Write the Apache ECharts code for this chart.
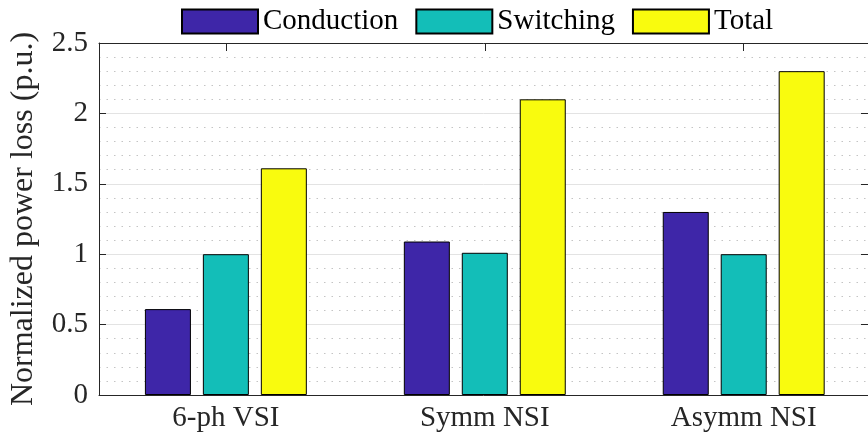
<!DOCTYPE html>
<html>
<head>
<meta charset="utf-8">
<script src="https://cdn.jsdelivr.net/npm/echarts@6/dist/echarts.min.js"></script>
<style>html,body{margin:0;padding:0;background:#fff;}#c{width:868px;height:437px;}</style>
</head>
<body>
<div id="c"></div>
<script>
const categories = ['6-ph VSI', 'Symm NSI', 'Asymm NSI'];
const seriesNames = ['Conduction', 'Switching', 'Total'];
const conduction = [0.61, 1.09, 1.30];
const switching = [1.00, 1.01, 1.00];
const total = [1.61, 2.10, 2.30];
const yTicks = [0, 0.5, 1, 1.5, 2, 2.5];
const colors = ['#3E26A8', '#13BEB8', '#F9FB0E'];

const FONT = '"Liberation Serif", "DejaVu Serif", serif';
const chart = echarts.init(document.getElementById('c'), null, {renderer: 'canvas'});
const toPairs = arr => arr.map((v, i) => [i + 1, v]);
const allSeries = [conduction, switching, total];

const xAxisCommon = {
  type: 'value', min: 0.51, max: 3.48,
  axisLine: {show: true, onZero: false, lineStyle: {color: '#262626', width: 1}},
  splitLine: {show: false}
};
const option = {
  animation: false,
  backgroundColor: '#ffffff',
  textStyle: {fontFamily: FONT},
  legend: {
    top: 7, left: 181, padding: 0,
    itemWidth: 76, itemHeight: 24, itemGap: 17,
    icon: 'rect',
    textStyle: {fontFamily: FONT, fontSize: 29, color: '#000', padding: [0, 0, 0, 0]},
    data: seriesNames
  },
  grid: {left: 99, top: 43, height: 352, width: 772},
  xAxis: [
    Object.assign({}, xAxisCommon, {
      position: 'bottom',
      axisTick: {show: true, inside: true, length: 8, customValues: [1, 2, 3], lineStyle: {color: '#262626'}},
      axisLabel: {show: true, customValues: [1, 2, 3], margin: 9, fontFamily: FONT, fontSize: 29, color: '#262626',
        formatter: v => categories[Math.round(v) - 1] || ''}
    }),
    Object.assign({}, xAxisCommon, {
      position: 'top',
      axisTick: {show: true, inside: true, length: 8, customValues: [1, 2, 3], lineStyle: {color: '#262626'}},
      axisLabel: {show: false}
    })
  ],
  yAxis: [
    {
      type: 'value', min: 0, max: 2.5, interval: 0.5, position: 'left',
      name: 'Normalized power loss (p.u.)', nameLocation: 'middle', nameGap: 59,
      nameTextStyle: {fontFamily: FONT, fontSize: 32, color: '#262626'},
      axisLine: {show: true, lineStyle: {color: '#262626', width: 1}},
      axisTick: {show: true, inside: true, length: 7, lineStyle: {color: '#262626'}},
      axisLabel: {margin: 11, fontFamily: FONT, fontSize: 29, color: '#262626',
        formatter: v => String(v)},
      splitLine: {show: true, lineStyle: {color: '#e3e3e3', width: 1}},
      minorTick: {show: true, splitNumber: 5, length: 0},
      minorSplitLine: {show: true, lineStyle: {color: '#c4c4c4', width: 1, type: [1.5, 6]}}
    },
    {
      type: 'value', min: 0, max: 2.5, interval: 0.5, position: 'right',
      axisLine: {show: true, lineStyle: {color: '#262626', width: 1}},
      axisTick: {show: true, inside: true, length: 7, lineStyle: {color: '#262626'}},
      axisLabel: {show: false},
      splitLine: {show: false}
    }
  ],
  series: allSeries.map((arr, i) => ({
    name: seriesNames[i],
    type: 'bar',
    xAxisIndex: 0, yAxisIndex: 0,
    data: toPairs(arr),
    barWidth: 46,
    barGap: '26%',
    itemStyle: {color: colors[i], borderColor: '#000', borderWidth: 1}
  }))
};
chart.setOption(option);
</script>
</body>
</html>
